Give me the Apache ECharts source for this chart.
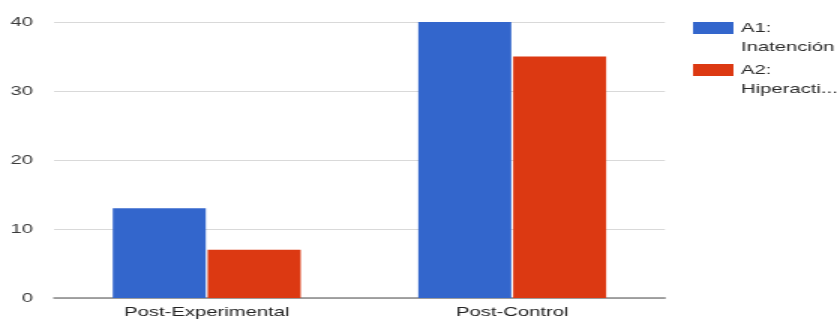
<!DOCTYPE html>
<html>
<head>
<meta charset="utf-8">
<script src="https://cdn.jsdelivr.net/npm/echarts@6/dist/echarts.min.js"></script>
<style>
  html, body { margin: 0; padding: 0; background: #fff; overflow: hidden; }
  #wrap { width: 837px; height: 321px; overflow: hidden; }
  /* chart is laid out narrow and widened horizontally */
  #chart { width: 558px; height: 321px; transform: scaleX(1.5); transform-origin: 0 0; }
</style>
</head>
<body>
<div id="wrap"><div id="chart"></div></div>
<script>
const categories = ['Post-Experimental', 'Post-Control'];
const seriesNames = ['A1: Inatención', 'A2: Hiperactividad'];
const legendLabels = ['A1:\nInatención', 'A2:\nHiperacti...'];
const inatencion = [13, 40];
const hiperactividad = [7, 35];
const yTicks = { min: 0, max: 40, interval: 10 };

const colors = ['#3366cc', '#dc3912'];
const font = 'Liberation Sans, Arial, sans-serif';

const chart = echarts.init(document.getElementById('chart'), null, { renderer: 'canvas' });
chart.setOption({
  animation: false,
  color: colors,
  textStyle: { fontFamily: font },
  grid: { left: 36, right: 114.7, top: 22, bottom: 23, containLabel: false },
  legend: {
    orient: 'vertical',
    left: 457,
    top: -5.5,
    itemWidth: 27,
    itemHeight: 12,
    itemGap: -15,
    icon: 'rect',
    // a leading blank line keeps the first text line level with the swatch
    formatter: function (name) { return '\n' + legendLabels[seriesNames.indexOf(name)]; },
    textStyle: { fontFamily: font, fontSize: 13.5, color: '#2a2a2a', lineHeight: 19 },
    data: seriesNames
  },
  xAxis: {
    type: 'category',
    data: categories,
    axisTick: { show: false },
    axisLine: { show: true, lineStyle: { color: '#888', width: 1.5 } },
    axisLabel: { color: '#222', fontSize: 13.5, fontFamily: font, margin: 7 }
  },
  yAxis: {
    type: 'value',
    min: yTicks.min,
    max: yTicks.max,
    interval: yTicks.interval,
    axisLine: { show: false },
    axisTick: { show: false },
    splitLine: { lineStyle: { color: '#d9d9d9', width: 1 } },
    axisLabel: { color: '#3a3a3a', fontSize: 13.5, fontFamily: font, margin: 14 }
  },
  series: [
    { name: seriesNames[0], type: 'bar', data: inatencion, barGap: '2%', barCategoryGap: '38.5%' },
    { name: seriesNames[1], type: 'bar', data: hiperactividad, barGap: '2%', barCategoryGap: '38.5%' }
  ]
});
</script>
</body>
</html>
